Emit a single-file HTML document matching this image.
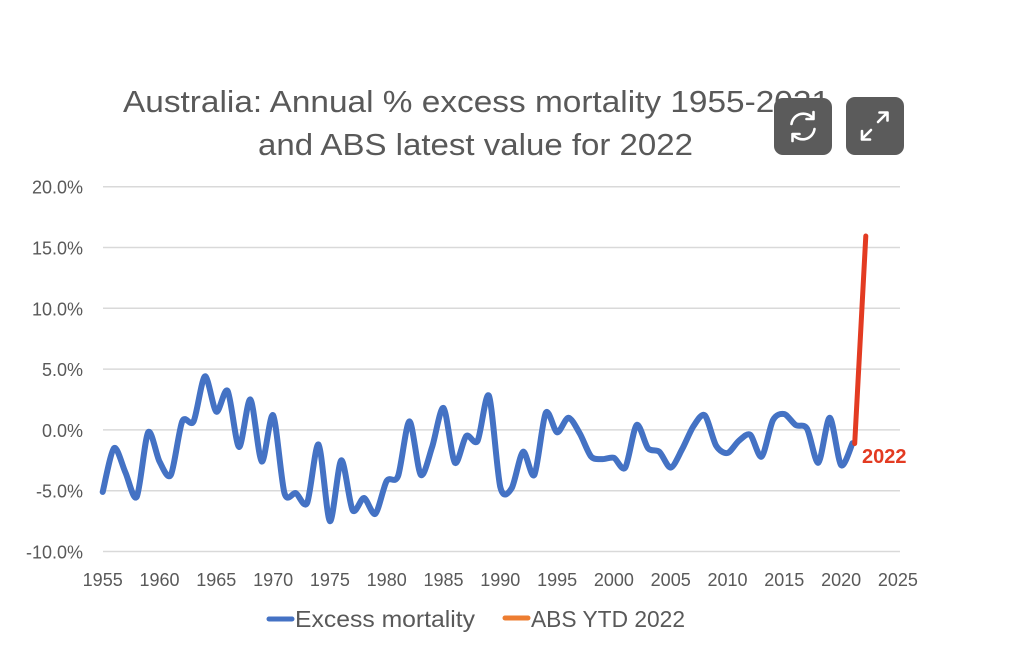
<!DOCTYPE html>
<html>
<head>
<meta charset="utf-8">
<style>
  html,body{margin:0;padding:0;background:#fff;}
  svg{display:block;}
  text{font-family:"Liberation Sans", Arial, sans-serif;}
</style>
</head>
<body>
<svg id="chart" width="1024" height="651" viewBox="0 0 1024 651" xmlns="http://www.w3.org/2000/svg">
  <rect x="0" y="0" width="1024" height="651" fill="#ffffff"/>
  <!-- Title -->
  <text x="123" y="112" font-size="31" fill="#595959" textLength="707" lengthAdjust="spacingAndGlyphs">Australia: Annual % excess mortality 1955-2021</text>
  <text x="258" y="155" font-size="31" fill="#595959" textLength="435" lengthAdjust="spacingAndGlyphs">and ABS latest value for 2022</text>

  <!-- Gridlines -->
  <g stroke="#d9d9d9" stroke-width="1.5">
    <line x1="103" y1="186.7" x2="900" y2="186.7"/>
    <line x1="103" y1="247.5" x2="900" y2="247.5"/>
    <line x1="103" y1="308.3" x2="900" y2="308.3"/>
    <line x1="103" y1="369.1" x2="900" y2="369.1"/>
    <line x1="103" y1="429.9" x2="900" y2="429.9"/>
    <line x1="103" y1="490.7" x2="900" y2="490.7"/>
    <line x1="103" y1="551.5" x2="900" y2="551.5"/>
  </g>

  <!-- Y labels -->
  <g font-size="18" fill="#595959" text-anchor="end">
    <text x="83" y="193.7">20.0%</text>
    <text x="83" y="254.5">15.0%</text>
    <text x="83" y="315.3">10.0%</text>
    <text x="83" y="376.1">5.0%</text>
    <text x="83" y="436.9">0.0%</text>
    <text x="83" y="497.7">-5.0%</text>
    <text x="83" y="558.5">-10.0%</text>
  </g>

  <!-- X labels -->
  <g font-size="18" fill="#595959" text-anchor="middle">
    <text x="102.7" y="586">1955</text>
    <text x="159.5" y="586">1960</text>
    <text x="216.3" y="586">1965</text>
    <text x="273.1" y="586">1970</text>
    <text x="329.9" y="586">1975</text>
    <text x="386.7" y="586">1980</text>
    <text x="443.5" y="586">1985</text>
    <text x="500.3" y="586">1990</text>
    <text x="557.1" y="586">1995</text>
    <text x="613.9" y="586">2000</text>
    <text x="670.7" y="586">2005</text>
    <text x="727.5" y="586">2010</text>
    <text x="784.3" y="586">2015</text>
    <text x="841.1" y="586">2020</text>
    <text x="897.9" y="586">2025</text>
  </g>

  <!-- Series -->
  <path id="blue" d="" fill="none" stroke="#4472c4" stroke-width="6" stroke-linecap="round" stroke-linejoin="round"/>
  <line x1="854.7" y1="443.5" x2="865.8" y2="236" stroke="#e33b22" stroke-width="5" stroke-linecap="round"/>
  <text x="862" y="463" font-size="20" font-weight="bold" fill="#e33b22">2022</text>

  <!-- Legend -->
  <line x1="269" y1="619" x2="292" y2="619" stroke="#4472c4" stroke-width="5" stroke-linecap="round"/>
  <text x="295" y="627" font-size="23" fill="#595959" textLength="180" lengthAdjust="spacingAndGlyphs">Excess mortality</text>
  <line x1="505" y1="618" x2="528" y2="618" stroke="#ed7d31" stroke-width="5" stroke-linecap="round"/>
  <text x="531" y="627" font-size="23" fill="#595959" textLength="154" lengthAdjust="spacingAndGlyphs">ABS YTD 2022</text>

  <!-- Buttons -->
  <rect x="774" y="98" width="58" height="57" rx="9" ry="9" fill="#5b5b5b"/>
  <rect x="846" y="97" width="58" height="58" rx="9" ry="9" fill="#5b5b5b"/>
  <!-- refresh icon -->
  <g fill="none" stroke="#ffffff" stroke-width="2.6" stroke-linecap="round" stroke-linejoin="round">
    <path d="M791.5 124 A12 12 0 0 1 813 118.5"/>
    <path d="M814.5 129 A12 12 0 0 1 793 134.5"/>
    <path d="M813.5 112 L813.5 119 L806.5 119"/>
    <path d="M792.5 141 L792.5 134 L799.5 134"/>
  </g>
  <!-- expand icon -->
  <g fill="none" stroke="#ffffff" stroke-width="2.6" stroke-linecap="round" stroke-linejoin="round">
    <line x1="878" y1="122" x2="887" y2="113"/>
    <path d="M879.5 112.5 L887.5 112.5 L887.5 120.5"/>
    <line x1="871" y1="130" x2="862" y2="139"/>
    <path d="M862 131 L862 139.5 L870 139.5"/>
  </g>
</svg>
<script>
(function(){
  var vals=[-5.1,-1.5,-3.5,-5.5,-0.2,-2.6,-3.7,0.7,0.7,4.4,1.5,3.2,-1.4,2.5,-2.6,1.2,-5.2,-5.2,-6.0,-1.2,-7.5,-2.5,-6.6,-5.6,-6.9,-4.2,-3.8,0.7,-3.7,-1.4,1.8,-2.7,-0.5,-0.9,2.8,-4.7,-4.8,-1.8,-3.7,1.4,-0.2,1.0,-0.3,-2.2,-2.4,-2.3,-3.1,0.4,-1.5,-1.8,-3.1,-1.6,0.3,1.2,-1.3,-1.9,-0.9,-0.4,-2.2,0.8,1.3,0.4,0.1,-2.7,1.0,-2.9,-1.1];
  var pts=vals.map(function(v,i){return [102.7+i*11.36, 429.9-v*12.16];});
  var k=0.14;
  var d="M"+pts[0][0].toFixed(2)+" "+pts[0][1].toFixed(2);
  for(var i=0;i<pts.length-1;i++){
    var p0=pts[i-1]||pts[i], p1=pts[i], p2=pts[i+1], p3=pts[i+2]||pts[i+1];
    var c1=[p1[0]+(p2[0]-p0[0])*k, p1[1]+(p2[1]-p0[1])*k];
    var c2=[p2[0]-(p3[0]-p1[0])*k, p2[1]-(p3[1]-p1[1])*k];
    d+=" C"+c1[0].toFixed(2)+" "+c1[1].toFixed(2)+" "+c2[0].toFixed(2)+" "+c2[1].toFixed(2)+" "+p2[0].toFixed(2)+" "+p2[1].toFixed(2);
  }
  document.getElementById("blue").setAttribute("d",d);
})();
</script>
</body>
</html>
